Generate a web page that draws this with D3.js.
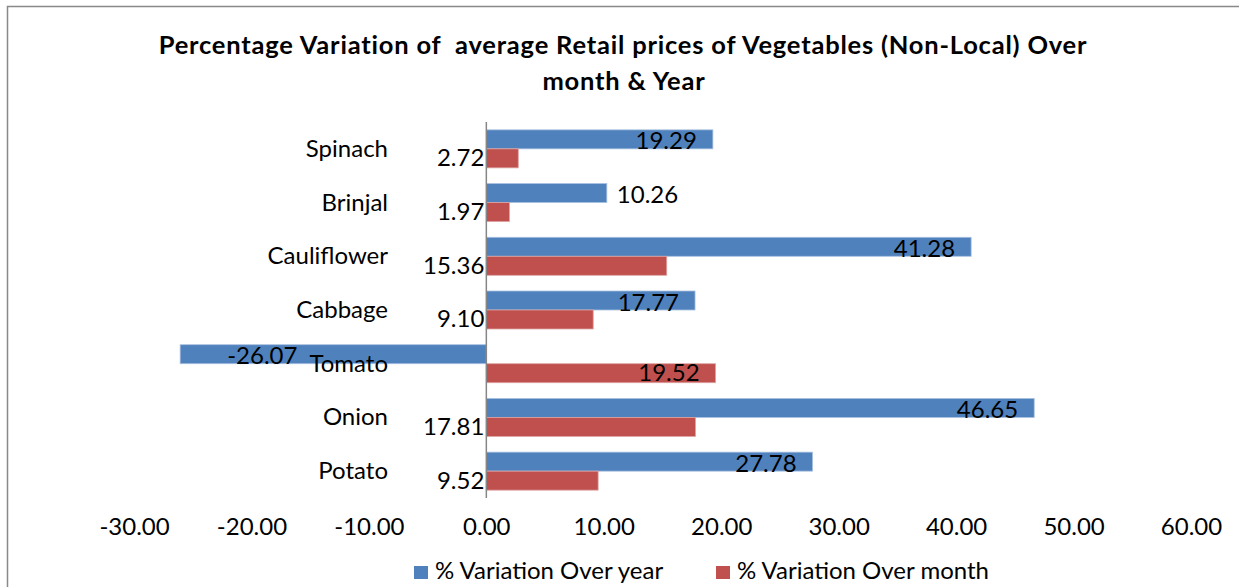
<!DOCTYPE html>
<html>
<head>
<meta charset="utf-8">
<script src="https://cdn.jsdelivr.net/npm/d3@7"></script>
<style>
  body { margin: 0; background: #fff; }
  text { font-family: Lato, "Open Sans", sans-serif; fill: #000; }
</style>
</head>
<body>
<div id="chart"></div>
<script>
// datos
var categorias = ["Spinach", "Brinjal", "Cauliflower", "Cabbage", "Tomato", "Onion", "Potato"];
var variacionAnual = [19.29, 10.26, 41.28, 17.77, -26.07, 46.65, 27.78];
var variacionMensual = [2.72, 1.97, 15.36, 9.10, 19.52, 17.81, 9.52];
var ticksX = [-30, -20, -10, 0, 10, 20, 30, 40, 50, 60];
var series = ["% Variation Over year", "% Variation Over month"];
var colores = ["#4F81BD", "#C0504D"];

// como se acomoda cada etiqueta (in = dentro al final, out = fuera, base = junto al eje)
var posAnual = ["in", "out", "in", "in", "neg", "in", "in"];
var posMensual = ["base", "base", "base", "base", "in", "base", "base"];

var w = 1239, h = 587;
var fs = "24px";

var svg = d3.select("#chart").append("svg")
    .attr("width", w)
    .attr("height", h);

// marco
svg.append("rect")
    .attr("x", 7.5).attr("y", 6.5)
    .attr("width", w).attr("height", h)
    .attr("fill", "none")
    .attr("stroke", "#898989")
    .attr("stroke-width", 1.5);

// titulo
svg.append("text")
    .attr("x", 623).attr("y", 54)
    .attr("text-anchor", "middle")
    .style("font-size", "25.5px")
    .style("font-weight", "bold")
    .style("letter-spacing", "0.8px")
    .style("white-space", "pre")
    .text("Percentage Variation of  average Retail prices of Vegetables (Non-Local) Over");
svg.append("text")
    .attr("x", 624).attr("y", 90)
    .attr("text-anchor", "middle")
    .style("font-size", "25.5px")
    .style("font-weight", "bold")
    .style("letter-spacing", "0.8px")
    .text("month & Year");

var x = d3.scaleLinear()
    .domain([-30, 60])
    .range([134, 1191]);

var y = d3.scaleBand()
    .domain(categorias)
    .range([122, 498])
    .paddingInner(0.2925)
    .paddingOuter(0.2925 / 2);

var sub = d3.scaleBand()
    .domain([0, 1])
    .range([0, y.bandwidth()]);

// eje x (solo etiquetas)
var ejeX = svg.append("g")
    .attr("transform", "translate(0,515)")
    .call(d3.axisBottom(x).tickValues(ticksX).tickFormat(d3.format(".2f")).tickSize(0));
ejeX.select(".domain").remove();
ejeX.selectAll("text")
    .style("font-size", fs)
    .style("font-family", "Lato, 'Open Sans', sans-serif")
    .attr("fill", "#000")
    .text(function(d) { return d3.format(".2f")(d).replace("\u2212", "-"); });

// barras
var grupos = svg.selectAll(".grupo")
    .data(categorias)
    .enter()
    .append("g")
    .attr("class", "grupo")
    .attr("transform", function(d) { return "translate(0," + y(d) + ")"; });

grupos.append("rect")
    .attr("x", function(d, i) { return x(Math.min(0, variacionAnual[i])); })
    .attr("y", sub(0))
    .attr("width", function(d, i) { return Math.abs(x(variacionAnual[i]) - x(0)); })
    .attr("height", sub.bandwidth())
    .attr("fill", colores[0])
    .attr("stroke", "#a9c1e0")
    .attr("stroke-width", 0.8);

grupos.append("rect")
    .attr("x", function(d, i) { return x(Math.min(0, variacionMensual[i])); })
    .attr("y", sub(1))
    .attr("width", function(d, i) { return Math.abs(x(variacionMensual[i]) - x(0)); })
    .attr("height", sub.bandwidth())
    .attr("fill", colores[1])
    .attr("stroke", "#dca4a2")
    .attr("stroke-width", 0.8);

// eje vertical
svg.append("line")
    .attr("x1", x(0)).attr("x2", x(0))
    .attr("y1", y.range()[0]).attr("y2", y.range()[1])
    .attr("stroke", "#868686")
    .attr("stroke-width", 1.5);

// etiquetas de categoria
svg.selectAll(".cat")
    .data(categorias)
    .enter()
    .append("text")
    .attr("class", "cat")
    .attr("x", 388)
    .attr("y", function(d) { return y(d) + y.bandwidth() / 2 + 8; })
    .attr("text-anchor", "end")
    .style("font-size", fs)
    .text(function(d) { return d; });

// etiquetas de datos
function etiqueta(valores, pos, s) {
    grupos.append("text")
        .attr("x", function(d, i) {
            var v = valores[i];
            if (pos[i] == "in") return x(v) - 16;
            if (pos[i] == "out") return x(v) + 10;
            if (pos[i] == "neg") return x(v) + 47;
            return x(0) - 2;
        })
        .attr("y", sub(s) + sub.bandwidth() - (s == 0 ? -0.5 : 1.5))
        .attr("text-anchor", function(d, i) {
            return (pos[i] == "out" || pos[i] == "neg") ? "start" : "end";
        })
        .style("font-size", fs)
        .text(function(d, i) { return valores[i].toFixed(2); });
}
etiqueta(variacionAnual, posAnual, 0);
etiqueta(variacionMensual, posMensual, 1);

// leyenda
var leyenda = svg.selectAll(".ley")
    .data(series)
    .enter()
    .append("g")
    .attr("class", "ley")
    .attr("transform", function(d, i) { return "translate(" + (i == 0 ? 414 : 716) + ",566)"; });

leyenda.append("rect")
    .attr("width", 14).attr("height", 13)
    .attr("fill", function(d, i) { return colores[i]; });

leyenda.append("text")
    .attr("x", 21).attr("y", 13)
    .style("font-size", fs)
    .text(function(d) { return d; });
</script>
</body>
</html>
